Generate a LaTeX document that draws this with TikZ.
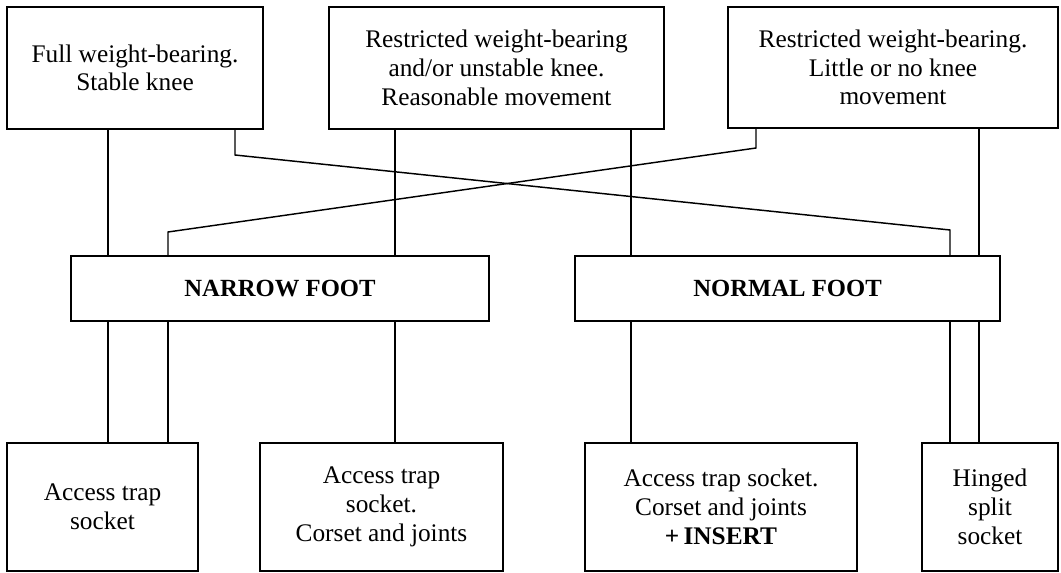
\documentclass[tikz,border=0pt]{standalone}
\usepackage{fontspec}
\setmainfont{Liberation Serif}
\begin{document}
\begin{tikzpicture} [
                x=0.75pt, y=-0.75pt,
                box/.style={draw, line width=1.1pt, rectangle, align=center, inner sep=0pt,
                    font=\fontsize{19}{21.5}\selectfont},
                foot box/.style={box, font=\fontsize{18.5}{21}\selectfont\bfseries},
                link/.style={draw, line width=1.1pt, -},
            ]
            \useasboundingbox (0,0) rectangle (1061,573);
            % First we draw the boxes of the top row
            \node[box, minimum width=256*0.75pt, minimum height=122*0.75pt] (top1) at (135,68)
                {Full weight-bearing.\\Stable knee};
            \node[box, minimum width=335*0.75pt, minimum height=122*0.75pt] (top2) at (496.5,68)
                {Restricted weight-bearing\\and/or unstable knee.\\Reasonable movement};
            \node[box, minimum width=330*0.75pt, minimum height=121*0.75pt] (top3) at (893,67.5)
                {Restricted weight-bearing.\\Little or no knee\\movement};
            % the two feet
            \node[foot box, minimum width=418*0.75pt, minimum height=65*0.75pt] (narrow) at (280,288.5)
                {NARROW FOOT};
            \node[foot box, minimum width=425*0.75pt, minimum height=65*0.75pt] (normal) at (787.5,288.5)
                {NORMAL FOOT};
            % sockets at the bottom
            \node[box, minimum width=191*0.75pt, minimum height=128*0.75pt] (accA) at (102.5,507)
                {Access trap\\socket};
            \node[box, minimum width=243*0.75pt, minimum height=128*0.75pt] (accB) at (381.5,507)
                {Access trap\\socket.\\Corset and joints};
            \node[box, minimum width=272*0.75pt, minimum height=128*0.75pt] (accC) at (721,507)
                {Access trap socket.\\Corset and joints\\\textbf{+\,INSERT}};
            \node[box, minimum width=136*0.75pt, minimum height=128*0.75pt] (hinge) at (990,507)
                {Hinged\\split\\socket};
            % Connect boxes with straight lines
            \foreach \xx/\source/\dest in {
                    108/top1/narrow, 108/narrow/accA, 168/narrow/accA,
                    395/top2/narrow, 395/narrow/accB,
                    631/top2/normal, 631/normal/accC,
                    950/normal/hinge, 979/top3/normal, 979/normal/hinge}
                \path[link] (\source.south -| \xx,0) -- (\dest.north -| \xx,0);
            % the two crossing lines
            \path[link] (top1.south -| 235,0) -- (235,155) -- (950,230) -- (normal.north -| 950,0);
            \path[link] (top3.south -| 756,0) -- (756,148) -- (168,232) -- (narrow.north -| 168,0);
        \end{tikzpicture}
\end{document}
